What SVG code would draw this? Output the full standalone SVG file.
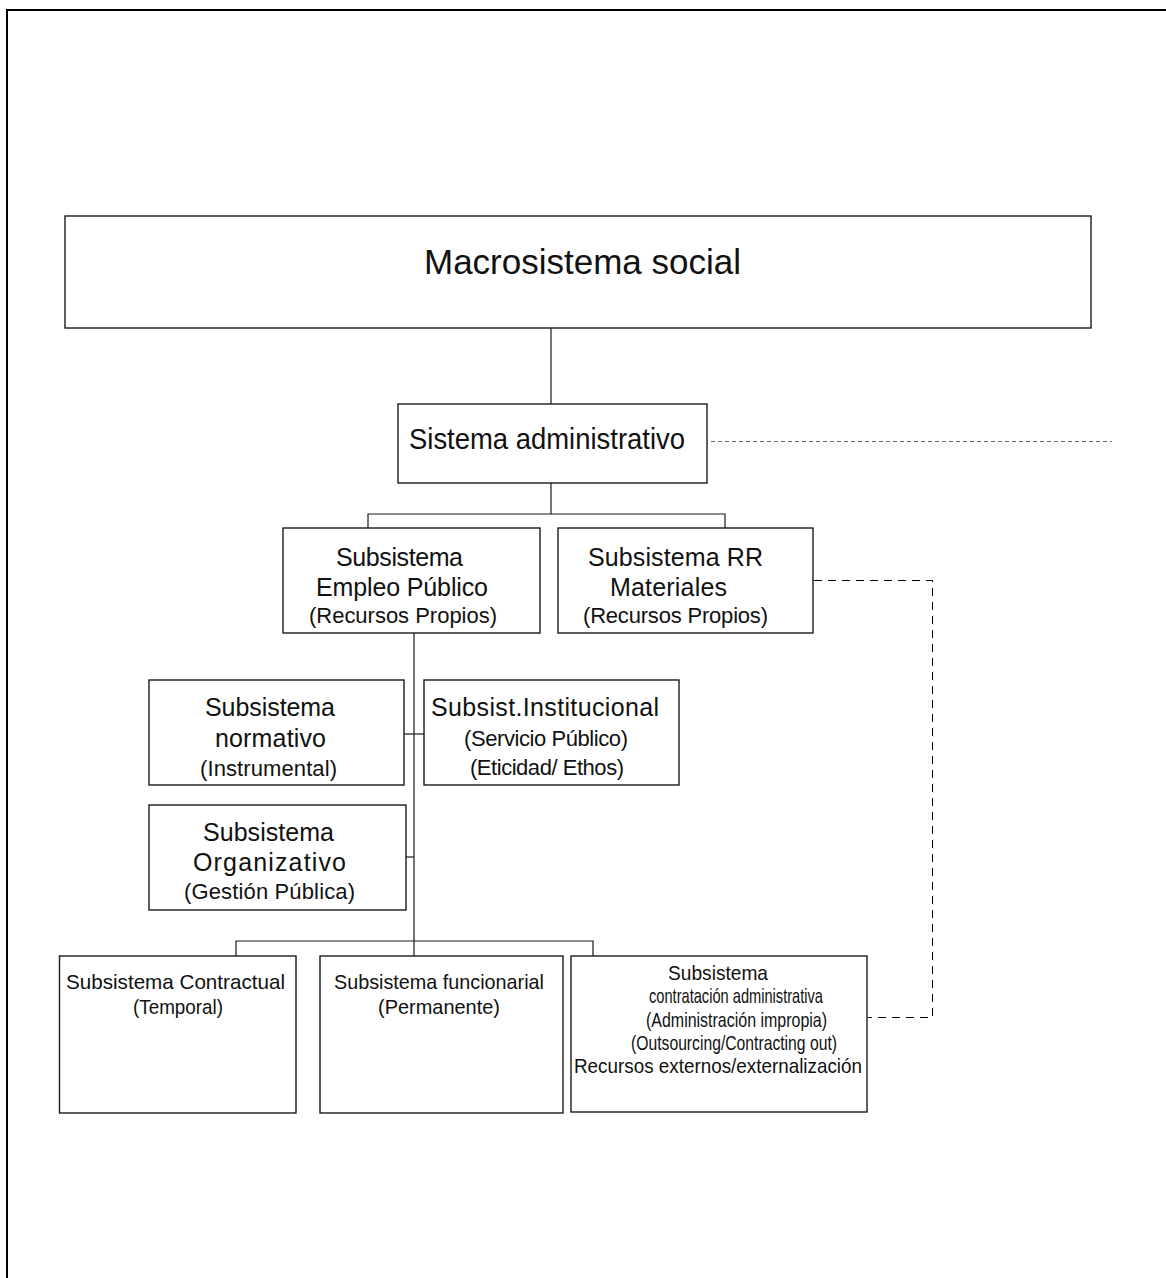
<svg xmlns="http://www.w3.org/2000/svg" width="1166" height="1278" viewBox="0 0 1166 1278">
  <style>
    .box { fill: #ffffff; stroke: #1a1a1a; stroke-width: 1.4; }
    .link { fill: none; stroke: #1a1a1a; stroke-width: 1.2; }
    .dash-fine { fill: none; stroke: #666666; stroke-width: 1; stroke-dasharray: 4 3; }
    .dash-long { fill: none; stroke: #000000; stroke-width: 1; stroke-dasharray: 8 6; }
    text { font-family: "Liberation Sans", Arial, sans-serif; fill: #111111; }
    .t-xl { font-size: 35px; }
    .t-l { font-size: 29px; }
    .t-m { font-size: 25px; }
    .t-s { font-size: 22px; }
    .t-xs { font-size: 21px; }
  </style>

  <!-- page frame -->
  <rect x="7" y="10" width="1200" height="1300" fill="none" stroke="#000000" stroke-width="2"/>

  <!-- connectors -->
  <g id="connectors">
    <line class="link" x1="551" y1="328" x2="551" y2="404"/>
    <polyline class="link" points="551,483 551,514"/>
    <polyline class="link" points="368,528 368,514 725,514 725,528"/>
    <line class="link" x1="414" y1="633" x2="414" y2="956"/>
    <line class="link" x1="404" y1="734" x2="424" y2="734"/>
    <line class="link" x1="406" y1="857" x2="414" y2="857"/>
    <polyline class="link" points="236,956 236,941 593,941 593,956"/>
    <line class="dash-fine" x1="711" y1="441.5" x2="1112" y2="441.5"/>
    <polyline class="dash-long" points="814,580.5 932.5,580.5 932.5,1017.5 868,1017.5"/>
  </g>

  <g id="macrosistema">
    <rect class="box" x="65" y="216" width="1026" height="112"/>
    <text class="t-xl" x="424" y="274" textLength="317" lengthAdjust="spacing">Macrosistema social</text>
  </g>

  <g id="sistema-administrativo">
    <rect class="box" x="398" y="404" width="309" height="79"/>
    <text class="t-l" x="409" y="449" textLength="276" lengthAdjust="spacingAndGlyphs">Sistema administrativo</text>
  </g>

  <g id="empleo-publico">
    <rect class="box" x="283" y="528" width="257" height="105"/>
    <text class="t-m" x="336" y="566" textLength="127" lengthAdjust="spacing">Subsistema</text>
    <text class="t-m" x="316" y="596" textLength="172" lengthAdjust="spacing">Empleo Público</text>
    <text class="t-s" x="309" y="623" textLength="188" lengthAdjust="spacing">(Recursos Propios)</text>
  </g>

  <g id="rr-materiales">
    <rect class="box" x="558" y="528" width="255" height="105"/>
    <text class="t-m" x="588" y="566" textLength="175" lengthAdjust="spacing">Subsistema RR</text>
    <text class="t-m" x="610" y="596" textLength="117" lengthAdjust="spacing">Materiales</text>
    <text class="t-s" x="583" y="623" textLength="185" lengthAdjust="spacing">(Recursos Propios)</text>
  </g>

  <g id="normativo">
    <rect class="box" x="149" y="680" width="255" height="105"/>
    <text class="t-m" x="205" y="716" textLength="130" lengthAdjust="spacing">Subsistema</text>
    <text class="t-m" x="215" y="747" textLength="111" lengthAdjust="spacing">normativo</text>
    <text class="t-s" x="200" y="776" textLength="137" lengthAdjust="spacing">(Instrumental)</text>
  </g>

  <g id="institucional">
    <rect class="box" x="424" y="680" width="255" height="105"/>
    <text class="t-m" x="431" y="716" textLength="228" lengthAdjust="spacing">Subsist.Institucional</text>
    <text class="t-s" x="464" y="746" textLength="164" lengthAdjust="spacing">(Servicio Público)</text>
    <text class="t-s" x="470" y="775" textLength="154" lengthAdjust="spacing">(Eticidad/ Ethos)</text>
  </g>

  <g id="organizativo">
    <rect class="box" x="149" y="805" width="257" height="105"/>
    <text class="t-m" x="203" y="841" textLength="131" lengthAdjust="spacing">Subsistema</text>
    <text class="t-m" x="193" y="871" textLength="153" lengthAdjust="spacing">Organizativo</text>
    <text class="t-s" x="184" y="899" textLength="171" lengthAdjust="spacing">(Gestión Pública)</text>
  </g>

  <g id="contractual">
    <rect class="box" x="59.5" y="956" width="236.5" height="157"/>
    <text class="t-xs" x="66" y="989" textLength="219" lengthAdjust="spacingAndGlyphs">Subsistema Contractual</text>
    <text class="t-xs" x="133" y="1014" textLength="90" lengthAdjust="spacingAndGlyphs">(Temporal)</text>
  </g>

  <g id="funcionarial">
    <rect class="box" x="320" y="956" width="243" height="157"/>
    <text class="t-xs" x="334" y="989" textLength="210" lengthAdjust="spacingAndGlyphs">Subsistema funcionarial</text>
    <text class="t-xs" x="378" y="1014" textLength="122" lengthAdjust="spacingAndGlyphs">(Permanente)</text>
  </g>

  <g id="contratacion-administrativa">
    <rect class="box" x="571" y="956" width="296" height="156"/>
    <text class="t-xs" x="668" y="980" textLength="100" lengthAdjust="spacingAndGlyphs">Subsistema</text>
    <text class="t-xs" x="649" y="1003" textLength="174" lengthAdjust="spacingAndGlyphs">contratación administrativa</text>
    <text class="t-xs" x="646" y="1027" textLength="181" lengthAdjust="spacingAndGlyphs">(Administración impropia)</text>
    <text class="t-xs" x="631" y="1050" textLength="206" lengthAdjust="spacingAndGlyphs">(Outsourcing/Contracting out)</text>
    <text class="t-xs" x="574" y="1073" textLength="288" lengthAdjust="spacingAndGlyphs">Recursos externos/externalización</text>
  </g>
</svg>
